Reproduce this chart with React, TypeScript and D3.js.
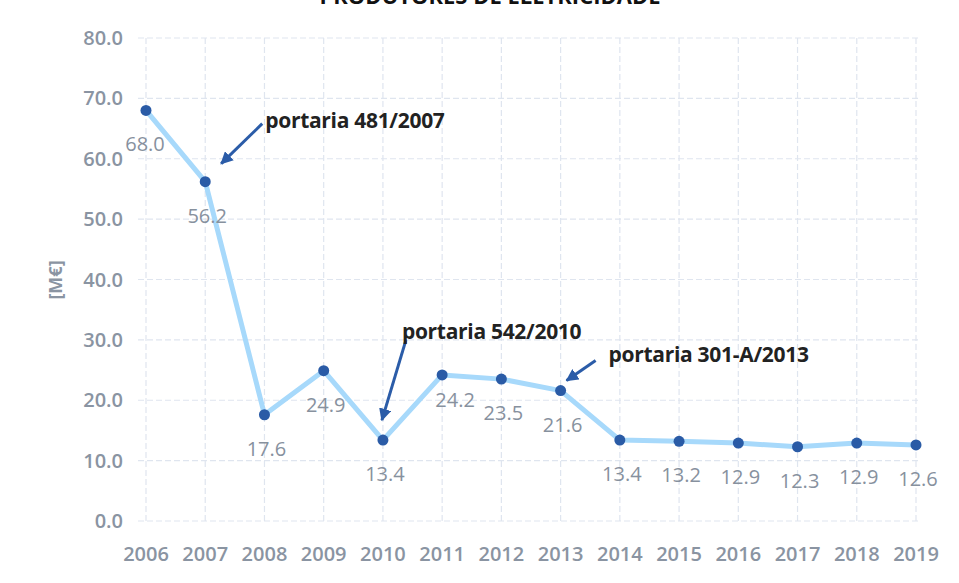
import React from 'react';
import * as d3 from 'd3';

const years = [2006, 2007, 2008, 2009, 2010, 2011, 2012, 2013, 2014, 2015, 2016, 2017, 2018, 2019];
const values = [68.0, 56.2, 17.6, 24.9, 13.4, 24.2, 23.5, 21.6, 13.4, 13.2, 12.9, 12.3, 12.9, 12.6];
const yTicks = [0, 10, 20, 30, 40, 50, 60, 70, 80];
const notes = [
  { year: 2007, text: 'portaria 481/2007' },
  { year: 2010, text: 'portaria 542/2010' },
  { year: 2013, text: 'portaria 301-A/2013' },
];

const W = 959, H = 583;
const FONT = "'Open Sans', 'Noto Sans', sans-serif";

const App = () => {
  const x = d3.scalePoint<number>().domain(years).range([146, 916]);
  const y = d3.scaleLinear().domain([0, 80]).range([521, 38]);
  const line = d3.line<number>()
    .x((d, i) => x(years[i]) as number)
    .y(d => y(d));

  // label offsets relative to each point (placement only)
  const labelDx = (i: number) => (i === 5 ? 13 : i === 0 ? -1 : 2);
  const labelDy = (i: number) => (i === 5 ? 32 : 41);

  // arrow geometry: tail/tip offsets from the annotated point, text anchor
  const arrowGeom: Record<number, { tail: [number, number]; tip: [number, number]; tx: number; ty: number }> = {
    2007: { tail: [57, -58], tip: [16, -18], tx: 60, ty: -54 },
    2010: { tail: [23, -100], tip: [-1, -20], tx: 19, ty: -101 },
    2013: { tail: [35, -30], tip: [6, -10], tx: 48, ty: -29 },
  };

  return (
    <svg width={W} height={H} style={{ display: 'block', position: 'absolute', left: 0, top: 0, background: '#fff' }}>
      <defs>
        <marker id="ah" viewBox="0 0 10 10" refX="9" refY="5" markerWidth="4.2" markerHeight="4.2" orient="auto">
          <path d="M0,0 L10,5 L0,10 z" fill="#2b5ca8" />
        </marker>
      </defs>
      <rect width={W} height={H} fill="#fff" />
      <text x={490} y={4} textAnchor="middle" fontFamily={FONT} fontWeight={700} fontSize={22} fill="#111">
        PRODUTORES DE ELETRICIDADE
      </text>

      {/* gridlines */}
      {yTicks.map(t => (
        <line key={'h' + t} x1={138} x2={918} y1={y(t)} y2={y(t)} stroke="#dfe5ef" strokeWidth={1.2} strokeDasharray="6 3" />
      ))}
      {years.map(yr => (
        <line key={'v' + yr} x1={x(yr)} x2={x(yr)} y1={y(80)} y2={y(0)} stroke="#dfe5ef" strokeWidth={1.2} strokeDasharray="6 3" />
      ))}

      {/* y tick labels */}
      {yTicks.map(t => (
        <text key={'yt' + t} x={123} y={y(t) + 7} textAnchor="end" fontFamily={FONT} fontWeight={600} fontSize={20} fill="#8a94a2">
          {d3.format('.1f')(t)}
        </text>
      ))}
      {/* x tick labels */}
      {years.map(yr => (
        <text key={'xt' + yr} x={x(yr)} y={561} textAnchor="middle" fontFamily={FONT} fontWeight={600} fontSize={20} fill="#8a94a2">
          {yr}
        </text>
      ))}
      <text transform="translate(62,280) rotate(-90)" textAnchor="middle" fontFamily={FONT} fontWeight={700} fontSize={18} fill="#8a94a2">
        [M€]
      </text>

      {/* series */}
      <path d={line(values) || ''} fill="none" stroke="#a7d9fb" strokeWidth={5} strokeLinejoin="round" />
      {values.map((v, i) => (
        <circle key={'p' + i} cx={x(years[i])} cy={y(v)} r={5.5} fill="#2a5ba6" />
      ))}
      {values.map((v, i) => (
        <text key={'l' + i} x={(x(years[i]) as number) + labelDx(i)} y={y(v) + labelDy(i)} textAnchor="middle"
          fontFamily={FONT} fontSize={20} fill="#87919e">
          {d3.format('.1f')(v)}
        </text>
      ))}

      {/* annotations */}
      {notes.map(n => {
        const i = years.indexOf(n.year);
        const px = x(n.year) as number, py = y(values[i]);
        const g = arrowGeom[n.year];
        return (
          <g key={n.year}>
            <line x1={px + g.tail[0]} y1={py + g.tail[1]} x2={px + g.tip[0]} y2={py + g.tip[1]}
              stroke="#2b5ca8" strokeWidth={3} markerEnd="url(#ah)" />
            <text x={px + g.tx} y={py + g.ty} fontFamily={FONT} fontWeight={700} fontSize={21} fill="#222" letterSpacing={-0.3}>
              {n.text}
            </text>
          </g>
        );
      })}
    </svg>
  );
};

export default App;
